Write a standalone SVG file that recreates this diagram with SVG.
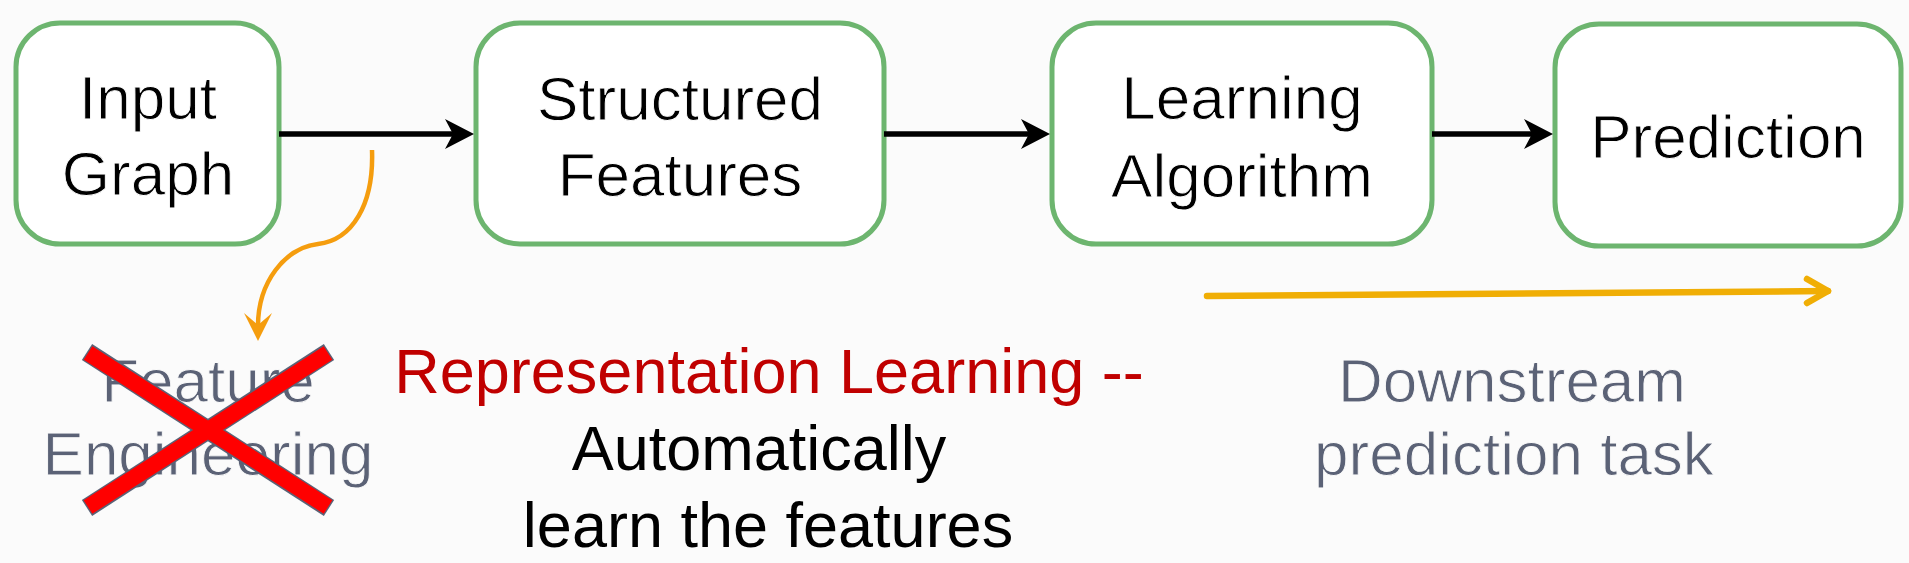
<svg xmlns="http://www.w3.org/2000/svg" width="1909" height="563" viewBox="0 0 1909 563">
  <style>
    .box { fill: #ffffff; stroke: #6db56f; stroke-width: 5; }
    .lbl { font-family: "Liberation Sans", Arial, sans-serif; font-size: 62px; fill: #000000; text-anchor: middle; stroke: #ffffff; stroke-width: 0.9; }
    .gray { font-family: "Liberation Sans", Arial, sans-serif; font-size: 62px; fill: #5b6276; text-anchor: middle; stroke: #fbfbfb; stroke-width: 0.9; }
    .red { font-family: "Liberation Sans", Arial, sans-serif; font-size: 63px; fill: #c00000; text-anchor: middle; }
    .blk { font-family: "Liberation Sans", Arial, sans-serif; font-size: 63px; fill: #000000; text-anchor: middle; }
    .flow { stroke: #000000; stroke-width: 5.5; fill: none; }
    .curve { stroke: #f59d0e; stroke-width: 4.5; fill: none; }
    .gold { stroke: #f0ae05; stroke-width: 6.5; fill: none; stroke-linecap: round; stroke-linejoin: round; }
  </style>
  <defs>
    <marker id="ahBlack" markerUnits="userSpaceOnUse" viewBox="-30 -16 32 32" markerWidth="32" markerHeight="32" refX="-18" refY="0" orient="auto">
      <path d="M0,0 L-29,-15 L-21,0 L-29,15 Z" fill="#000000"/>
    </marker>
    <marker id="ahOrange" markerUnits="userSpaceOnUse" viewBox="-30 -16 32 32" markerWidth="32" markerHeight="32" refX="-15" refY="0" orient="auto">
      <path d="M0,0 L-28,-14 L-16,0 L-28,14 Z" fill="#f59d0e"/>
    </marker>
  </defs>
  <rect x="0" y="0" width="1909" height="563" fill="#fbfbfb"/>

  <g id="input-graph">
    <rect class="box" x="16" y="23" width="263" height="221" rx="44" ry="44"/>
    <text class="lbl" x="148" y="119">Input</text>
    <text class="lbl" x="148" y="195">Graph</text>
  </g>
  <g id="structured-features">
    <rect class="box" x="476" y="23" width="408" height="221" rx="44" ry="44"/>
    <text class="lbl" x="680" y="120">Structured</text>
    <text class="lbl" x="680" y="196">Features</text>
  </g>
  <g id="learning-algorithm">
    <rect class="box" x="1052" y="23" width="380" height="221" rx="44" ry="44"/>
    <text class="lbl" x="1242" y="119">Learning</text>
    <text class="lbl" x="1242" y="197">Algorithm</text>
  </g>
  <g id="prediction">
    <rect class="box" x="1555" y="24" width="346" height="222" rx="44" ry="44"/>
    <text class="lbl" x="1728" y="158">Prediction</text>
  </g>

  <g id="feature-engineering">
    <text class="gray" x="208" y="402">Feature</text>
    <text class="gray" x="208" y="475">Engineering</text>
    <g stroke="#5b6276" stroke-width="19">
      <line x1="87" y1="352" x2="329" y2="508"/>
      <line x1="329" y1="352" x2="87" y2="508"/>
    </g>
    <g stroke="#ff0000" stroke-width="16">
      <line x1="88" y1="353" x2="328" y2="507"/>
      <line x1="328" y1="353" x2="88" y2="507"/>
    </g>
  </g>

  <g id="representation-learning">
    <text class="red" x="769" y="393">Representation Learning --</text>
    <text class="blk" x="759" y="470">Automatically</text>
    <text class="blk" x="768" y="547">learn the features</text>
  </g>

  <g id="downstream">
    <text class="gray" x="1512" y="402">Downstream</text>
    <text class="gray" x="1514" y="475">prediction task</text>
  </g>

  <g id="connectors">
    <line class="flow" x1="279" y1="134" x2="456" y2="134" marker-end="url(#ahBlack)"/>
    <line class="flow" x1="884" y1="134" x2="1032" y2="134" marker-end="url(#ahBlack)"/>
    <line class="flow" x1="1432" y1="134" x2="1535" y2="134" marker-end="url(#ahBlack)"/>
    <path class="curve" d="M372,150 C374,205 352,240 318,244 C285,248 258,282 258,326" marker-end="url(#ahOrange)"/>
    <path class="gold" d="M1207,296 L1828,291"/>
    <path class="gold" d="M1807,279 L1828,291 L1807,303"/>
  </g>
</svg>
